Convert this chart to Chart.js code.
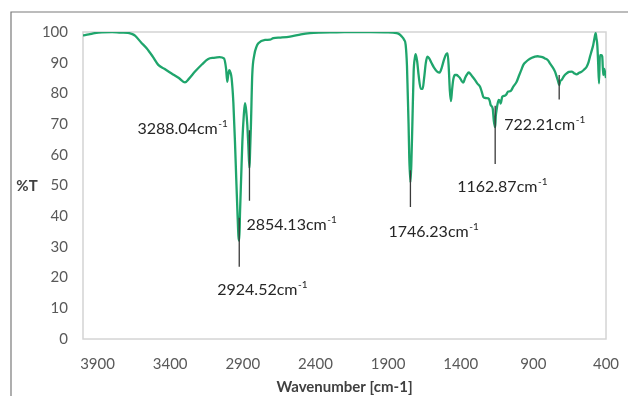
<!DOCTYPE html>
<html>
<head>
<meta charset="utf-8">
<script src="https://cdn.jsdelivr.net/npm/chart.js@4/dist/chart.umd.min.js"></script>
<style>
  html, body { margin: 0; padding: 0; background: #ffffff; }
  #wrap { position: relative; width: 628px; height: 396px; overflow: hidden; }
  canvas { display: block; }
</style>
</head>
<body>
<div id="wrap"><canvas id="ir" width="628" height="396"></canvas></div>
<script>
// FTIR spectrum: wavenumber (cm-1) and transmittance (%T)
const wavenumbers = [
  4000, 3960, 3920, 3870, 3800, 3740, 3690, 3660, 3642, 3600,
  3562, 3520, 3482, 3440, 3390, 3340, 3298, 3270, 3229, 3180,
  3138, 3100, 3060, 3030, 3015, 3007, 2999, 2993, 2985, 2977,
  2965, 2954, 2945, 2937, 2930, 2924.52, 2919, 2911, 2903, 2893,
  2885, 2877, 2869, 2862, 2854.13, 2850, 2844, 2835, 2821, 2805,
  2793, 2747, 2713, 2690, 2640, 2575, 2500, 2438, 2369, 2300,
  2254, 2150, 2025, 1920, 1841, 1820, 1806, 1790, 1779, 1770,
  1765, 1759, 1754, 1746.23, 1740, 1733, 1724, 1716, 1710, 1700,
  1690, 1675, 1662, 1652, 1640, 1630, 1618, 1600, 1585, 1560,
  1545, 1530, 1515, 1500, 1490, 1482, 1475, 1467, 1460, 1451,
  1440, 1428, 1415, 1405, 1393, 1383, 1370, 1359, 1345, 1336,
  1320, 1302, 1285, 1267, 1255, 1245, 1228, 1210, 1200, 1194,
  1180, 1172, 1162.87, 1159, 1152, 1146, 1138, 1130, 1125, 1114,
  1100, 1089, 1073, 1056, 1038, 1015, 997, 980, 969, 950,
  935, 910, 889, 870, 855, 838, 820, 800, 786, 770,
  751, 740, 730, 722.21, 715, 705, 690, 671, 655, 636,
  620, 602, 585, 567, 550, 533, 520, 510, 498, 488,
  480, 471, 466, 460, 454, 448, 442, 432, 426, 419,
  412, 404, 400
];
const transmittance = [
  98.9, 99.2, 99.6, 99.9, 100.0, 99.8, 99.7, 99.3, 98.8, 96.6,
  94.7, 92.0, 89.3, 88.0, 86.5, 85.0, 83.6, 84.8, 87.1, 89.5,
  91.2, 91.6, 91.8, 91.4, 88.0, 83.8, 86.5, 87.6, 86.8, 84.9,
  77.0, 64.3, 52.0, 41.5, 33.5, 32.0, 41.5, 53.0, 64.3, 73.0,
  76.8, 74.5, 69.7, 63.0, 55.7, 61.0, 69.7, 86.0, 92.5, 95.3,
  96.3, 97.4, 97.5, 98.0, 98.2, 98.5, 99.2, 99.6, 99.8, 99.9,
  99.9, 100.0, 100.0, 99.9, 99.6, 99.2, 98.5, 97.5, 95.8, 89.0,
  80.5, 70.0, 58.9, 51.0, 57.0, 69.7, 87.1, 91.5, 92.8, 90.5,
  86.0, 81.5, 81.5, 85.0, 90.0, 92.0, 91.5, 89.8, 88.5, 87.0,
  86.8, 88.5, 91.0, 92.8, 93.0, 88.0, 81.0, 77.5, 81.0, 84.6,
  86.0, 86.0, 85.5, 85.0, 84.0, 83.5, 85.0, 86.0, 86.8, 86.5,
  85.5, 84.4, 83.2, 82.2, 80.5, 78.9, 78.5, 78.4, 77.5, 76.2,
  75.1, 71.0, 69.0, 72.4, 75.0, 76.7, 77.9, 77.5, 76.7, 78.9,
  79.2, 79.5, 80.6, 80.8, 82.2, 83.8, 86.0, 88.0, 89.3, 90.3,
  90.9, 91.6, 92.0, 92.1, 92.0, 91.8, 91.4, 90.8, 89.8, 88.7,
  87.1, 85.5, 84.0, 82.7, 84.0, 84.4, 85.6, 86.5, 87.0, 87.1,
  86.6, 86.2, 86.7, 87.1, 87.8, 88.7, 90.2, 92.0, 94.0, 95.8,
  97.8, 99.6, 98.0, 95.8, 90.0, 83.3, 92.5, 92.5, 92.0, 86.0,
  88.0, 86.0, 85.0
];

// Assigned bands: wavenumber, %T at the band minimum, marker line span
const peakWavenumbers = [3288.04, 2924.52, 2854.13, 1746.23, 1162.87, 722.21];
const peakDepths      = [83.6, 32.0, 55.7, 51.0, 69.0, 82.7];
const markerTop       = [null, 39.5, 68.0, 55.0, 76.0, 86.0];
const markerBottom    = [null, 23.5, 45.0, 43.0, 57.0, 78.0];
const peakLabels = ['3288.04', '2924.52', '2854.13', '1746.23', '1162.87', '722.21'];

const xTicks = [3900, 3400, 2900, 2400, 1900, 1400, 900, 400];
const yTicks = [0, 10, 20, 30, 40, 50, 60, 70, 80, 90, 100];

// Text placement of each band label, in pixels from the band minimum
const labelOffsets = [
  { dx: -49, dy: 46 },
  { dx: -22, dy: 49 },
  { dx: -3,  dy: 57 },
  { dx: -22, dy: 49 },
  { dx: -38, dy: 60 },
  { dx: -55, dy: 40 }
];

const GREEN = '#1fa56c';
const FONT = 'Lato, "Open Sans", "Liberation Sans", sans-serif';

const spectrum = wavenumbers.map((w, i) => ({ x: w, y: transmittance[i] }));

const markerSets = [];
peakWavenumbers.forEach((w, i) => {
  if (markerTop[i] == null) return;
  markerSets.push({
    data: [{ x: w, y: markerTop[i] }, { x: w, y: markerBottom[i] }],
    borderColor: '#3a3a3a',
    borderWidth: 1.3,
    pointRadius: 0,
    fill: false,
    order: 0
  });
});

const decor = {
  id: 'decor',
  beforeDraw(chart) {
    const ctx = chart.ctx;
    ctx.save();
    ctx.fillStyle = '#ffffff';
    ctx.fillRect(0, 0, chart.width, chart.height);
    // outer frame
    ctx.strokeStyle = '#7a7a7a';
    ctx.lineWidth = 1.2;
    ctx.beginPath();
    ctx.moveTo(11, chart.height + 2);
    ctx.lineTo(11, 12);
    ctx.lineTo(chart.width + 2, 12);
    ctx.stroke();
    ctx.restore();
  },
  beforeDatasetsDraw(chart) {
    const { ctx, chartArea: a } = chart;
    ctx.save();
    ctx.strokeStyle = '#d4d4d4';
    ctx.lineWidth = 1.5;
    ctx.strokeRect(a.left, a.top, a.right - a.left, a.bottom - a.top);
    ctx.restore();
  },
  afterDraw(chart) {
    const { ctx, chartArea: a, scales } = chart;
    ctx.save();
    // axis titles
    ctx.fillStyle = '#404040';
    ctx.font = 'bold 15px ' + FONT;
    ctx.textAlign = 'center';
    ctx.textBaseline = 'middle';
    ctx.fillText('Wavenumber [cm-1]', (a.left + a.right) / 2, 387);
    ctx.fillText('%T', 27, 186);

    // band labels with superscript -1
    ctx.fillStyle = '#262626';
    ctx.textAlign = 'left';
    peakWavenumbers.forEach((w, i) => {
      const px = scales.x.getPixelForValue(w) + labelOffsets[i].dx;
      const py = scales.y.getPixelForValue(peakDepths[i]) + labelOffsets[i].dy;
      ctx.font = '16px ' + FONT;
      ctx.textBaseline = 'middle';
      const main = peakLabels[i] + 'cm';
      ctx.fillText(main, px, py);
      const wMain = ctx.measureText(main).width;
      ctx.font = '10px ' + FONT;
      ctx.fillText('-1', px + wMain + 0.5, py - 5);
    });
    ctx.restore();
  }
};

new Chart(document.getElementById('ir'), {
  type: 'line',
  data: {
    datasets: [
      {
        data: spectrum,
        borderColor: GREEN,
        borderWidth: 2.3,
        pointRadius: 0,
        fill: false,
        cubicInterpolationMode: 'monotone',
        order: 1
      },
      ...markerSets
    ]
  },
  options: {
    responsive: false,
    animation: false,
    devicePixelRatio: 1,
    layout: { padding: { left: 0, top: 32, right: 22, bottom: 0 } },
    plugins: { legend: { display: false }, tooltip: { enabled: false } },
    scales: {
      x: {
        type: 'linear',
        min: 400,
        max: 4000,
        reverse: true,
        grid: { display: false, drawTicks: false },
        border: { display: false },
        afterBuildTicks: s => { s.ticks = xTicks.map(v => ({ value: v })); },
        afterFit: s => { s.height = 57; s.paddingLeft = 0; s.paddingRight = 0; },
        ticks: {
          color: '#595959',
          font: { family: FONT, size: 15 },
          padding: 16,
          maxRotation: 0,
          autoSkip: false,
          callback: v => String(v)
        }
      },
      y: {
        min: 0,
        max: 100,
        grid: { display: false, drawTicks: false },
        border: { display: false },
        afterBuildTicks: s => { s.ticks = yTicks.map(v => ({ value: v })); },
        afterFit: s => { s.width = 83; s.paddingTop = 0; s.paddingBottom = 0; },
        ticks: {
          color: '#595959',
          font: { family: FONT, size: 15 },
          padding: 15,
          callback: v => String(v)
        }
      }
    }
  },
  plugins: [decor]
});
</script>
</body>
</html>
